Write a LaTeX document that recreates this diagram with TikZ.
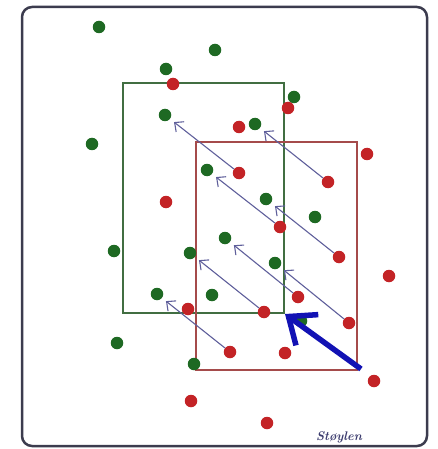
\documentclass[tikz,border=0pt]{standalone}
\usetikzlibrary{arrows.meta}
\definecolor{dotgreen}{RGB}{30,105,35}
\definecolor{dotred}{RGB}{195,35,38}
\definecolor{rectgreen}{RGB}{65,110,65}
\definecolor{rectred}{RGB}{165,75,75}
\definecolor{framecol}{RGB}{60,60,78}
\definecolor{thinarrow}{RGB}{95,95,155}
\definecolor{bigblue}{RGB}{18,18,180}
\definecolor{signcol}{RGB}{60,60,110}
\begin{document}
\begin{tikzpicture}[x=1pt,y=-1pt,
  gdot/.style={circle,fill=dotgreen,inner sep=0pt,minimum size=12.5pt},
  rdot/.style={circle,fill=dotred,inner sep=0pt,minimum size=12.5pt},
  grect/.style={draw=rectgreen,line width=2pt,inner sep=0pt,minimum width=161pt,minimum height=230pt},
  rrect/.style={draw=rectred,line width=2pt,inner sep=0pt,minimum width=161pt,minimum height=228pt},
  shiftarrow/.style={draw=thinarrow,line width=1.1pt,-{Straight Barb[length=7pt,width=13pt]},shorten >=5pt},
  bigarrow/.style={draw=bigblue,line width=5.5pt,-{Straight Barb[length=23pt,width=38pt]}},
  frame/.style={draw=framecol,line width=2.5pt,rounded corners=10pt}]
\useasboundingbox (0,0) rectangle (438,449);
\draw[frame] (22,7) rectangle (427,446);
% rectangles
\node[grect] (G) at (203.5,198) {};
\node[rrect] (R) at (276.5,256) {};
% green dots
\node[gdot] (g1) at (99,27) {};
\node[gdot] (g2) at (215,50) {};
\node[gdot] (g3) at (166,69) {};
\node[gdot] (g4) at (165,115) {};
\node[gdot] (g5) at (92,144) {};
\node[gdot] (g6) at (207,170) {};
\node[gdot] (g7) at (294,97) {};
\node[gdot] (g8) at (255,124) {};
\node[gdot] (g9) at (266,199) {};
\node[gdot] (g10) at (315,217) {};
\node[gdot] (g11) at (114,251) {};
\node[gdot] (g12) at (190,253) {};
\node[gdot] (g13) at (157,294) {};
\node[gdot] (g14) at (212,295) {};
\node[gdot] (g15) at (117,343) {};
\node[gdot] (g16) at (194,364) {};
\node[gdot] (g17) at (225,238) {};
\node[gdot] (g18) at (275,263) {};
\node[gdot] (g19) at (301,321) {};
% red dots
\node[rdot] (r1) at (173,84) {};
\node[rdot] (r2) at (288,108) {};
\node[rdot] (r3) at (239,127) {};
\node[rdot] (r4) at (367,154) {};
\node[rdot] (r5) at (239,173) {};
\node[rdot] (r6) at (328,182) {};
\node[rdot] (r7) at (166,202) {};
\node[rdot] (r8) at (280,227) {};
\node[rdot] (r9) at (339,257) {};
\node[rdot] (r10) at (389,276) {};
\node[rdot] (r11) at (298,297) {};
\node[rdot] (r12) at (264,312) {};
\node[rdot] (r13) at (188,309) {};
\node[rdot] (r14) at (349,323) {};
\node[rdot] (r15) at (230,352) {};
\node[rdot] (r16) at (285,353) {};
\node[rdot] (r17) at (374,381) {};
\node[rdot] (r18) at (191,401) {};
\node[rdot] (r19) at (267,423) {};
% displacement arrows
\draw[shiftarrow] (r5) -- (g4);
\draw[shiftarrow] (r6) -- (g8);
\draw[shiftarrow] (r8) -- (g6);
\draw[shiftarrow] (r9) -- (g9);
\draw[shiftarrow] (r11) -- (g17);
\draw[shiftarrow] (r14) -- (g18);
\draw[shiftarrow] (r12) -- (g12);
\draw[shiftarrow] (r15) -- (g13);
% big arrow from red corner to green corner
\coordinate (bt) at ([shift={(3pt,2pt)}]R.south east);
\draw[bigarrow] (bt) -- (G.south east);
\node[font=\fontsize{12.5}{14}\selectfont\bfseries\itshape,text=signcol] (sig) at (339,437) {Støylen};
\end{tikzpicture}
\end{document}
